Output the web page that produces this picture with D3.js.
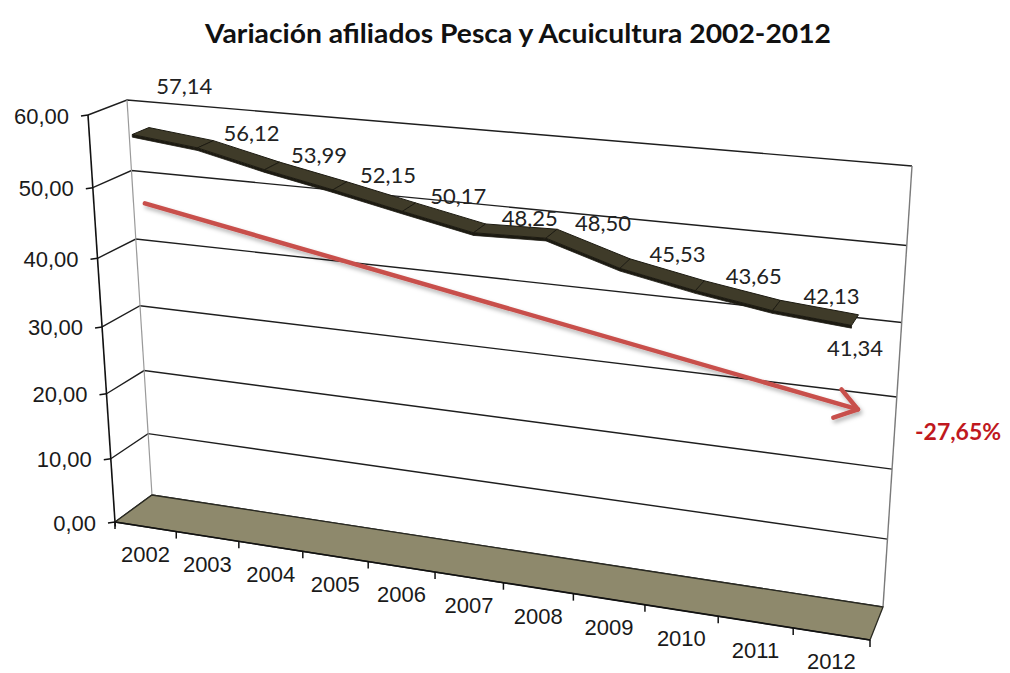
<!DOCTYPE html>
<html>
<head>
<meta charset="utf-8">
<script src="https://cdn.jsdelivr.net/npm/d3@7"></script>
<style>
  html, body { margin: 0; padding: 0; background: #fff; }
  svg { display: block; }
</style>
</head>
<body>
<svg id="chart" width="1010" height="673"></svg>
<script>
// ---- data ----
const years = ["2002", "2003", "2004", "2005", "2006", "2007", "2008", "2009", "2010", "2011", "2012"];
const afiliados = [57.14, 56.12, 53.99, 52.15, 50.17, 48.25, 48.50, 45.53, 43.65, 42.13, 41.34];
const valueTicks = [0, 10, 20, 30, 40, 50, 60];
const chartTitle = "Variación afiliados Pesca y Acuicultura 2002-2012";
// trend annotation, expressed in category index / value units
const trendFrom = { index: 0.0, value: 47.0 };
const trendTo = { index: 10.1, value: 29.6 };

// ---- 3D plot box (screen position of its eight corners) ----
// F/B = front/back, L/R = left/right, B/T = bottom/top
const box = {
  FLB: [115, 522], FLT: [88, 115], BLB: [152, 495], BLT: [127, 100],
  FRB: [870, 640], FRT: [897, 186], BRB: [883, 607], BRT: [912, 166]
};
// homogeneous weights giving the perspective foreshortening
const persp = { u: -0.117, v: -0.08, w: 0 };

function project(u, v, w) {
  let nx = 0, ny = 0, dd = 0;
  for (const iu of [0, 1]) for (const iv of [0, 1]) for (const iw of [0, 1]) {
    const c = (iu ? u : 1 - u) * (iv ? v : 1 - v) * (iw ? w : 1 - w);
    const p = box[(iw ? "B" : "F") + (iu ? "R" : "L") + (iv ? "T" : "B")];
    const h = 1 + persp.u * iu + persp.v * iv + persp.w * iw;
    nx += c * h * p[0]; ny += c * h * p[1]; dd += c * h;
  }
  return [nx / dd, ny / dd];
}

const n = years.length;
const xBand = d3.scaleBand().domain(years).range([0, 1]).padding(0);
const xIdx = d3.scaleLinear().domain([-0.5, n - 0.5]).range([0, 1]);
const yVal = d3.scaleLinear().domain([0, 60]).range([0, 1]);

const es = d3.formatLocale({ decimal: ",", thousands: ".", grouping: [3], currency: ["", " €"], minus: "-" });
const fmt2 = es.format(".2f");

const svg = d3.select("#chart");
const line = d3.line();
const poly = pts => line(pts) + "Z";

// drop shadow for the trend arrow
const defs = svg.append("defs");
const f = defs.append("filter").attr("id", "shadow").attr("x", "-10%").attr("y", "-10%").attr("width", "130%").attr("height", "140%");
f.append("feDropShadow").attr("dx", 2).attr("dy", 3).attr("stdDeviation", 2).attr("flood-color", "#000").attr("flood-opacity", 0.3);

// ---- walls ----
const g = svg.append("g");
g.append("path")
  .attr("d", poly([box.BLB, box.BRB, box.BRT, box.BLT]))
  .attr("fill", "#fff");

// gridlines on back wall and left side wall
valueTicks.forEach(t => {
  const v = yVal(t);
  g.append("path")
    .attr("d", line([project(0, v, 0), project(0, v, 1), project(1, v, 1)]))
    .attr("fill", "none").attr("stroke", "#1e1e1e").attr("stroke-width", 1.4);
});

// vertical wall edges
g.append("path").attr("d", line([box.BLB, box.BLT]))
  .attr("stroke", "#9a9a9a").attr("stroke-width", 1.2).attr("fill", "none");
g.append("path").attr("d", line([box.BRB, box.BRT]))
  .attr("stroke", "#7a7a7a").attr("stroke-width", 1.4).attr("fill", "none");

// floor
g.append("path")
  .attr("d", poly([box.FLB, box.FRB, box.BRB, box.BLB]))
  .attr("fill", "#8e896c").attr("stroke", "#2a2a22").attr("stroke-width", 1.3);

// ---- value axis ----
g.append("path").attr("d", line([project(0, -0.012, 0), box.FLT]))
  .attr("stroke", "#111").attr("stroke-width", 1.6).attr("fill", "none");
valueTicks.forEach(t => {
  const p = project(0, yVal(t), 0);
  g.append("line")
    .attr("x1", p[0] - 7).attr("y1", p[1] + 1).attr("x2", p[0]).attr("y2", p[1])
    .attr("stroke", "#111").attr("stroke-width", 1.5);
  g.append("text")
    .attr("x", p[0] - 19).attr("y", p[1] + 1)
    .attr("text-anchor", "end").attr("dominant-baseline", "central")
    .attr("font-family", "'Liberation Sans', Arial, sans-serif").attr("font-size", 22)
    .attr("fill", "#1a1a1a")
    .text(fmt2(t));
});

// ---- category axis ----
g.append("path").attr("d", line([box.FLB, box.FRB]))
  .attr("stroke", "#111").attr("stroke-width", 1.6).attr("fill", "none");
const bounds = years.map(y => xBand(y)).concat([1]);
bounds.forEach(u => {
  const p = project(u, 0, 0);
  g.append("line")
    .attr("x1", p[0]).attr("y1", p[1]).attr("x2", p[0]).attr("y2", p[1] + 7)
    .attr("stroke", "#111").attr("stroke-width", 1.5);
});
years.forEach(y => {
  const p = project(xBand(y) + xBand.bandwidth() / 2, 0, 0);
  g.append("text")
    .attr("x", p[0]).attr("y", p[1] + 28)
    .attr("text-anchor", "middle").attr("dominant-baseline", "central")
    .attr("font-family", "'Liberation Sans', Arial, sans-serif").attr("font-size", 22)
    .attr("fill", "#1a1a1a")
    .text(y);
});

// ---- trend arrow ----
const a0 = project(xIdx(trendFrom.index), yVal(trendFrom.value), 0.5);
const a1 = project(xIdx(trendTo.index), yVal(trendTo.value), 0.5);
const ang = Math.atan2(a1[1] - a0[1], a1[0] - a0[0]);
const headLen = 26, headAng = 0.6;
const h1 = [a1[0] - headLen * Math.cos(ang - headAng), a1[1] - headLen * Math.sin(ang - headAng)];
const h2 = [a1[0] - headLen * Math.cos(ang + headAng), a1[1] - headLen * Math.sin(ang + headAng)];
const arrow = svg.append("g").attr("filter", "url(#shadow)")
  .attr("fill", "none").attr("stroke", "#c8504c").attr("stroke-width", 4.5)
  .attr("stroke-linecap", "round").attr("stroke-linejoin", "round");
arrow.append("path").attr("d", line([a0, a1]));
arrow.append("path").attr("d", line([h1, a1, h2]));

const change = (afiliados[n - 1] - afiliados[0]) / afiliados[0];
svg.append("text")
  .attr("x", a1[0] + 57).attr("y", a1[1] + 22)
  .attr("dominant-baseline", "central")
  .attr("font-family", "Lato, 'Open Sans', sans-serif").attr("font-weight", 700)
  .attr("font-size", 23).attr("fill", "#c0181e")
  .text(es.format(".2%")(change));

// ---- ribbon series ----
const w0 = 0.28, w1 = 0.72, thick = 0.006;
const pts = afiliados.map((d, i) => ({ u: xIdx(i), v: yVal(d) }));
const ribbon = svg.append("g");
for (let i = 0; i < n - 1; i++) {
  const A = pts[i], B = pts[i + 1];
  // front edge thickness
  ribbon.append("path")
    .attr("d", poly([project(A.u, A.v, w0), project(B.u, B.v, w0),
                     project(B.u, B.v - thick, w0), project(A.u, A.v - thick, w0)]))
    .attr("fill", "#1d1b12").attr("stroke", "#1d1b12").attr("stroke-width", 0.8);
  // top face
  ribbon.append("path")
    .attr("d", poly([project(A.u, A.v, w0), project(B.u, B.v, w0),
                     project(B.u, B.v, w1), project(A.u, A.v, w1)]))
    .attr("fill", "#3f3b29").attr("stroke", "#1d1b12").attr("stroke-width", 1);
}

// ---- data labels ----
afiliados.forEach((d, i) => {
  let p, dy;
  if (i === 0) { p = project(xIdx(i + 0.68), yVal(d), 0.5); dy = -49; }
  else if (i === n - 1) { p = project(xIdx(i), yVal(d), 0.5); dy = 27; }
  else { p = project(xIdx(i + 0.7), yVal(d), 0.5); dy = -16; }
  svg.append("text")
    .attr("x", p[0]).attr("y", p[1] + dy)
    .attr("text-anchor", "middle").attr("dominant-baseline", "central")
    .attr("font-family", "Lato, 'Open Sans', sans-serif").attr("font-size", 22)
    .attr("fill", "#222")
    .text(fmt2(d));
});

// ---- title ----
svg.append("text")
  .attr("x", 518).attr("y", 43)
  .attr("text-anchor", "middle")
  .attr("font-family", "Lato, 'Open Sans', sans-serif").attr("font-weight", 700)
  .attr("font-size", 27).attr("fill", "#111")
  .attr("textLength", 626).attr("lengthAdjust", "spacingAndGlyphs")
  .text(chartTitle);
</script>
</body>
</html>
